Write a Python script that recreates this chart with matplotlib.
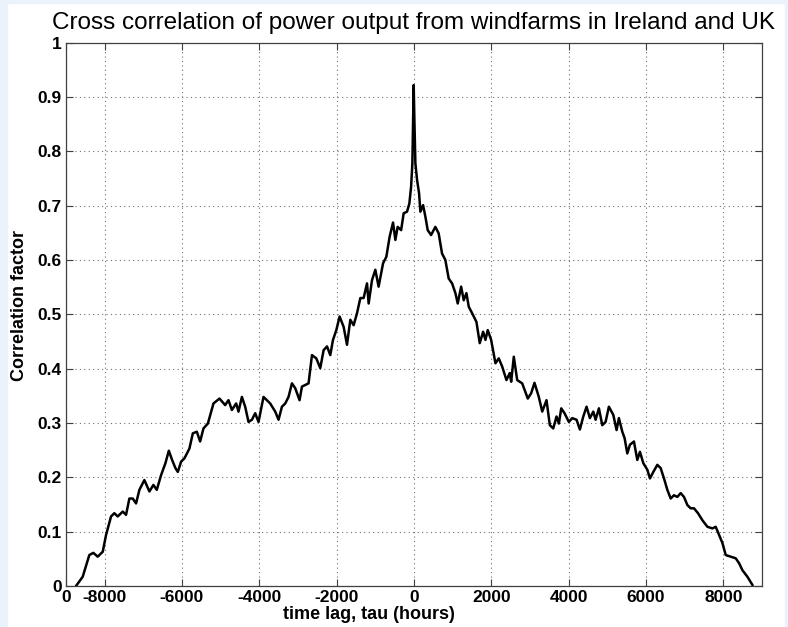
import matplotlib
matplotlib.use("Agg")
import matplotlib.pyplot as plt
from matplotlib.patches import Rectangle

# lag in hours and cross-correlation value
lag = [-8741, -8568, -8397, -8293, -8180, -8050, -7964, -7835, -7750, -7662,
       -7532, -7447, -7361, -7275, -7188, -7102, -6973, -6843, -6740, -6652,
       -6541, -6429, -6341, -6256, -6170, -6108, -6023, -5937, -5808, -5720,
       -5617, -5531, -5445, -5331, -5186, -5031, -4884, -4798, -4710, -4599,
       -4539, -4451, -4366, -4280, -4192, -4107, -4021, -3892, -3804, -3719,
       -3589, -3503, -3416, -3330, -3245, -3157, -3071, -2960, -2898, -2812,
       -2727, -2639, -2527, -2424, -2338, -2250, -2165, -2095, -2009, -1924,
       -1820, -1733, -1647, -1561, -1474, -1388, -1303, -1215, -1173, -1086,
       -1000, -915, -800, -715, -630, -542, -482, -423, -333, -267,
       -180, -120, -75, -42, -23, -8, 10, 36, 80, 131,
       165, 235, 294, 354, 442, 552, 638, 725, 811, 897,
       985, 1071, 1131, 1219, 1286, 1356, 1416, 1504, 1615, 1700,
       1788, 1848, 1907, 1995, 2106, 2192, 2280, 2391, 2477, 2513,
       2581, 2669, 2798, 2943, 3031, 3116, 3228, 3316, 3427, 3513,
       3601, 3686, 3746, 3808, 3893, 4005, 4093, 4204, 4290, 4378,
       4463, 4549, 4637, 4696, 4782, 4869, 4955, 5040, 5154, 5239,
       5299, 5387, 5447, 5516, 5584, 5688, 5775, 5843, 5931, 6034,
       6102, 6190, 6293, 6379, 6465, 6552, 6638, 6723, 6811, 6897,
       6982, 7070, 7155, 7241, 7345, 7459, 7588, 7718, 7803, 7889,
       7977, 8062, 8192, 8321, 8407, 8494, 8623, 8752]
corr = [0.000, 0.017, 0.057, 0.061, 0.054, 0.063, 0.094, 0.128, 0.134, 0.128,
        0.137, 0.131, 0.161, 0.161, 0.152, 0.177, 0.195, 0.174, 0.186, 0.177,
        0.204, 0.226, 0.249, 0.232, 0.217, 0.210, 0.229, 0.235, 0.253, 0.281,
        0.284, 0.266, 0.290, 0.299, 0.336, 0.345, 0.333, 0.342, 0.324, 0.336,
        0.321, 0.348, 0.330, 0.302, 0.306, 0.318, 0.302, 0.348, 0.342, 0.336,
        0.321, 0.306, 0.330, 0.336, 0.348, 0.373, 0.364, 0.342, 0.367, 0.370,
        0.373, 0.425, 0.419, 0.401, 0.434, 0.441, 0.425, 0.453, 0.471, 0.496,
        0.477, 0.444, 0.490, 0.480, 0.502, 0.530, 0.530, 0.557, 0.520, 0.563,
        0.582, 0.551, 0.594, 0.606, 0.643, 0.669, 0.637, 0.661, 0.655, 0.686,
        0.689, 0.704, 0.735, 0.778, 0.858, 0.922, 0.858, 0.778, 0.747, 0.723,
        0.689, 0.701, 0.680, 0.655, 0.646, 0.661, 0.649, 0.612, 0.600, 0.566,
        0.557, 0.539, 0.520, 0.551, 0.526, 0.539, 0.514, 0.502, 0.486, 0.447,
        0.468, 0.453, 0.471, 0.453, 0.410, 0.419, 0.404, 0.379, 0.392, 0.376,
        0.422, 0.379, 0.373, 0.345, 0.355, 0.374, 0.348, 0.321, 0.342, 0.296,
        0.290, 0.312, 0.299, 0.327, 0.318, 0.302, 0.309, 0.306, 0.288, 0.312,
        0.330, 0.309, 0.321, 0.306, 0.327, 0.296, 0.302, 0.330, 0.315, 0.287,
        0.309, 0.284, 0.272, 0.244, 0.260, 0.266, 0.232, 0.247, 0.226, 0.214,
        0.198, 0.210, 0.223, 0.217, 0.198, 0.177, 0.161, 0.167, 0.164, 0.171,
        0.164, 0.149, 0.143, 0.143, 0.134, 0.121, 0.109, 0.106, 0.109, 0.094,
        0.079, 0.057, 0.054, 0.051, 0.042, 0.029, 0.017, 0.002]

xticks = [-9000, -8000, -6000, -4000, -2000, 0, 2000, 4000, 6000, 8000]
xtick_labels = ["0", "-8000", "-6000", "-4000", "-2000", "0", "2000", "4000", "6000", "8000"]
yticks = [0, 0.1, 0.2, 0.3, 0.4, 0.5, 0.6, 0.7, 0.8, 0.9, 1]
ytick_labels = ["0", "0.1", "0.2", "0.3", "0.4", "0.5", "0.6", "0.7", "0.8", "0.9", "1"]

plt.rcParams['font.family'] = ['Liberation Sans', 'DejaVu Sans']

fig = plt.figure(figsize=(7.88, 6.27), dpi=100, facecolor="white")
# light blue page background showing at the edges
bg = "#eaf2fc"
fig.patches.append(Rectangle((0, 0), 7 / 788, 1, transform=fig.transFigure, color=bg, zorder=-10))
fig.patches.append(Rectangle((0, 1 - 3 / 627), 1, 3 / 627, transform=fig.transFigure, color=bg, zorder=-10))
fig.patches.append(Rectangle((1 - 3 / 788, 0), 3 / 788, 1, transform=fig.transFigure, color=bg, zorder=-10))

ax = fig.add_axes([66 / 788, 1 - 586 / 627, (762 - 66) / 788, (586 - 42.7) / 627])
ax.plot(lag, corr, color="black", linewidth=1.8)

ax.set_xlim(-9000, 9000)
ax.set_ylim(0, 1)
ax.set_xticks(xticks)
ax.set_xticklabels(xtick_labels)
ax.set_yticks(yticks)
ax.set_yticklabels(ytick_labels)

ax.grid(True, linestyle=(0, (1, 3)), color="#707070", linewidth=0.8)
ax.tick_params(direction="in", length=5, width=0.8, color="#404040",
               top=True, right=True, labelsize=12.5, pad=3)
for lab in ax.get_xticklabels() + ax.get_yticklabels():
    lab.set_fontweight("bold")
for s in ax.spines.values():
    s.set_color("#404040")
    s.set_linewidth(0.9)

ax.set_title("Cross correlation of power output from windfarms in Ireland and UK",
             fontsize=17.5, pad=10)
ax.set_xlabel("time lag, tau (hours)", fontsize=13, fontweight="bold")
ax.xaxis.set_label_coords(0.435, -0.037)
ax.xaxis.label.set_va("top")
ax.set_ylabel("Correlation factor", fontsize=13, fontweight="bold")
ax.yaxis.set_label_coords(-0.054, 0.517)

fig.savefig("out.png", dpi=100, facecolor=fig.get_facecolor())
